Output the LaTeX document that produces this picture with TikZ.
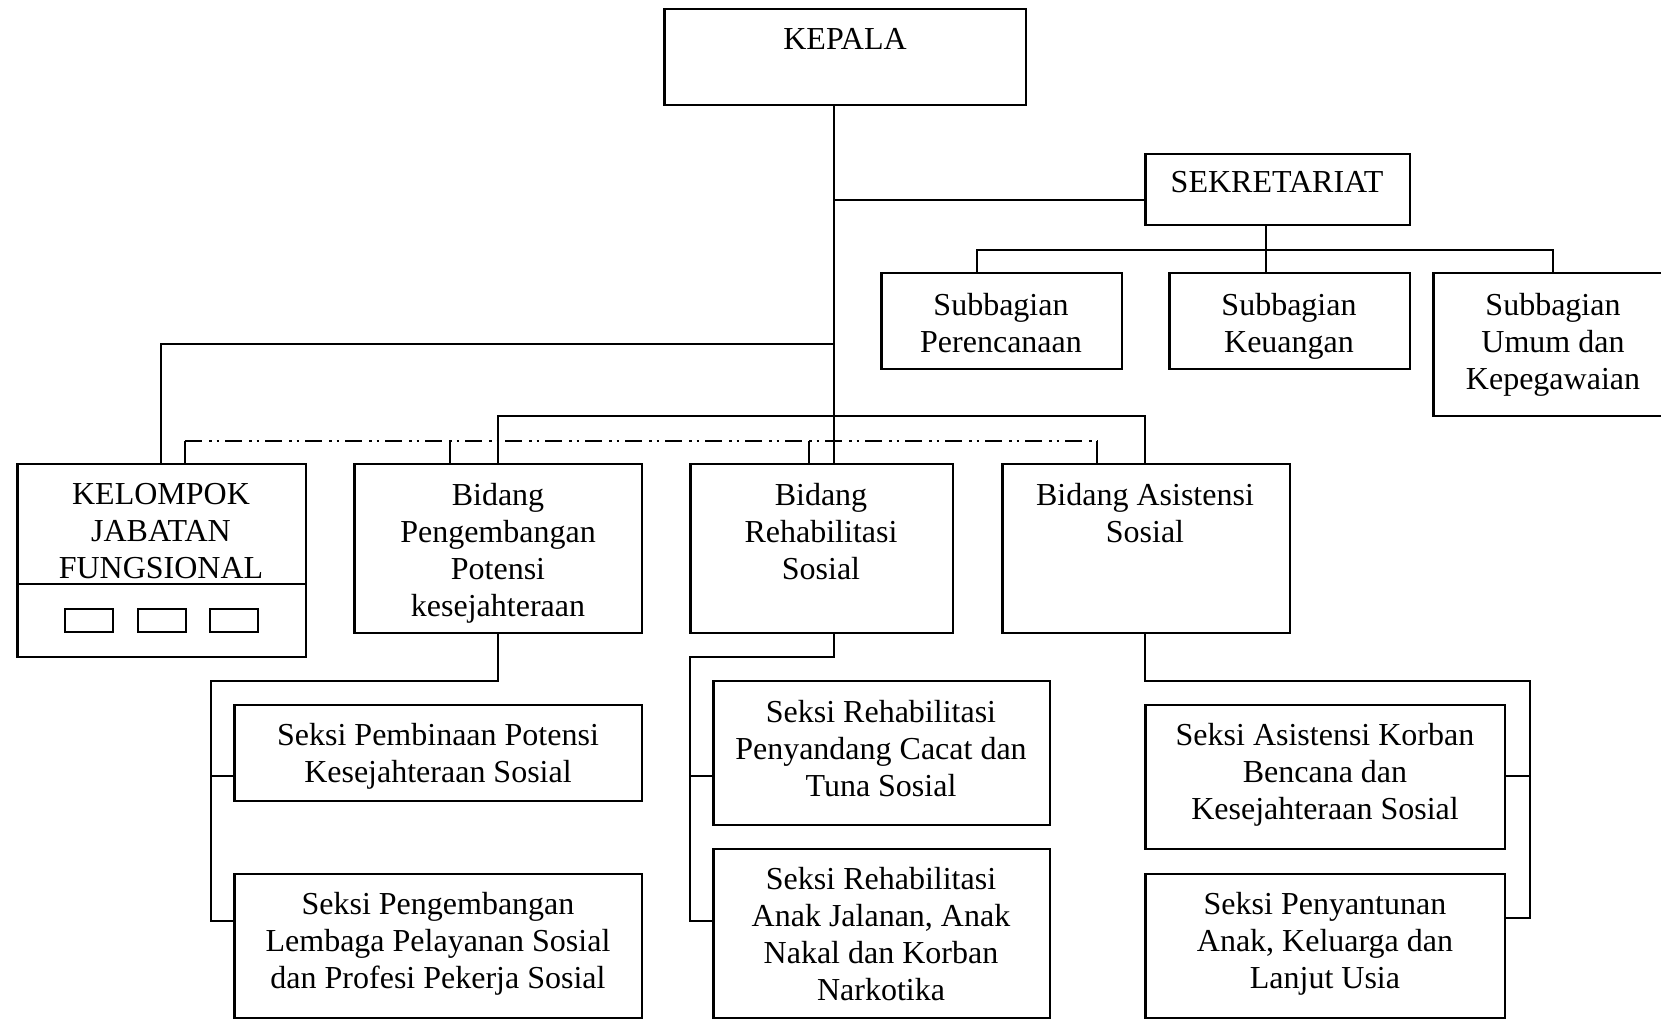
\documentclass[tikz,border=0pt]{standalone}
\usepackage{fontspec}
\setmainfont{Liberation Serif}
\tikzset{
  box/.style={draw=black, line width=1.8pt, inner sep=0pt, outer sep=0pt},
  sbox/.style={draw=black, line width=1.6pt, inner sep=0pt, outer sep=0pt, anchor=north west, minimum width=48pt, minimum height=23pt},
  conn/.style={line width=1.5pt},
  txt/.style={font=\fontsize{32}{37}\selectfont, align=center, inner sep=0pt, outer sep=0pt, anchor=north},
  dashdotdot/.style={line width=1.8pt, dash pattern=on 17pt off 7pt on 2.5pt off 5pt on 2.5pt off 6pt}
}
\newcommand\bx[5]{%
  \node[box,anchor=north west,minimum width={(#4-#2)*1pt},minimum height={(#5-#3)*1pt}] (#1) at (#2,#3) {};
  \draw[line width=3pt] ([xshift=0.7pt]#1.north west) -- ([xshift=0.7pt]#1.south west);}
\newcommand\tx[4]{\node[txt] (#1) at (#2,#3-22) {#4};}
\begin{document}
\begin{tikzpicture}[x=1pt,y=-1pt]
\useasboundingbox (0,0) rectangle (1661,1021);
\fill[white] (0,0) rectangle (1661,1021);

% boxes
\bx{kepala}{664}{9}{1026}{105}
\bx{sek}{1145}{154}{1410}{225}
\bx{sperc}{881}{273}{1122}{369}
\bx{skeu}{1169}{273}{1410}{369}
\bx{sumum}{1433}{273}{1663}{416}
\bx{kel}{17}{464}{306}{657}
\bx{bpeng}{354}{464}{642}{633}
\bx{brehab}{690}{464}{953}{633}
\bx{basis}{1002}{464}{1290}{633}
\bx{spemb}{234}{705}{642}{801}
\bx{spengl}{234}{874}{642}{1018}
\bx{srpc}{713}{681}{1050}{825}
\bx{sranak}{713}{849}{1050}{1018}
\bx{sakor}{1145}{705}{1505}{849}
\bx{spany}{1145}{874}{1505}{1018}

% kelompok details
\coordinate (kd) at (0,584);
\draw[line width=1.8pt] (kel.west |- kd) -- (kel.east |- kd);
\node[sbox] (k1) at (65,609) {};
\node[sbox] (k2) at (138,609) {};
\node[sbox] (k3) at (210,609) {};

% texts
\tx{kepala-t}{845}{50}{KEPALA}
\tx{sek-t}{1277}{193}{SEKRETARIAT}
\tx{sperc-t}{1001}{315}{Subbagian\\Perencanaan}
\tx{skeu-t}{1289}{315}{Subbagian\\Keuangan}
\tx{sumum-t}{1553}{315}{Subbagian\\Umum dan\\Kepegawaian}
\tx{kel-t}{161}{505}{KELOMPOK\\JABATAN\\FUNGSIONAL}
\tx{bpeng-t}{498}{505}{Bidang\\Pengembangan\\Potensi\\kesejahteraan}
\tx{brehab-t}{821}{505}{Bidang\\Rehabilitasi\\Sosial}
\tx{basis-t}{1145}{505}{Bidang Asistensi\\Sosial}
\tx{spemb-t}{438}{745}{Seksi Pembinaan Potensi\\Kesejahteraan Sosial}
\tx{spengl-t}{438}{914}{Seksi Pengembangan\\Lembaga Pelayanan Sosial\\dan Profesi Pekerja Sosial}
\tx{srpc-t}{881}{722}{Seksi Rehabilitasi\\Penyandang Cacat dan\\Tuna Sosial}
\tx{sranak-t}{881}{889}{Seksi Rehabilitasi\\Anak Jalanan, Anak\\Nakal dan Korban\\Narkotika}
\tx{sakor-t}{1325}{745}{Seksi Asistensi Korban\\Bencana dan\\Kesejahteraan Sosial}
\tx{spany-t}{1325}{914}{Seksi Penyantunan\\Anak, Keluarga dan\\Lanjut Usia}

% connectors
\coordinate (tx) at (834,0);
\draw[conn] (kepala.south -| tx) -- (brehab.north -| tx);
\coordinate (sy) at (0,200);
\draw[conn] (tx |- sy) -- (sek.west |- sy);
\coordinate (sj) at (1266,250);
\coordinate (sa) at (977,250);
\coordinate (sc) at (1553,250);
\draw[conn] (sek.south -| sj) -- (sj) -- (skeu.north -| sj);
\draw[conn] (sperc.north -| sa) -- (sa) -- (sc) -- (sumum.north -| sc);
\coordinate (ly) at (161,344);
\draw[conn] (tx |- ly) -- (ly) -- (kel.north -| ly);
\coordinate (by1) at (498,416);
\coordinate (by2) at (1145,416);
\draw[conn] (bpeng.north -| by1) -- (by1) -- (by2) -- (basis.north -| by2);
\coordinate (d1) at (185,441);
\coordinate (d2) at (450,441);
\coordinate (d3) at (809,441);
\coordinate (d4) at (1097,441);
\draw[dashdotdot] (d1) -- (d4);
\draw[conn] (d1) -- (kel.north -| d1);
\draw[conn] (d2) -- (bpeng.north -| d2);
\draw[conn] (d3) -- (brehab.north -| d3);
\draw[conn] (d4) -- (basis.north -| d4);
% bidang pengembangan
\coordinate (p1) at (498,681);
\coordinate (p2) at (211,681);
\coordinate (p3) at (211,921);
\coordinate (p4) at (211,776);
\draw[conn] (bpeng.south -| p1) -- (p1) -- (p2) -- (p3) -- (spengl.west |- p3);
\draw[conn] (p4) -- (spemb.west |- p4);
% bidang rehabilitasi
\coordinate (r1) at (834,657);
\coordinate (r2) at (690,657);
\coordinate (r3) at (690,921);
\coordinate (r4) at (690,776);
\draw[conn] (brehab.south -| r1) -- (r1) -- (r2) -- (r3) -- (sranak.west |- r3);
\draw[conn] (r4) -- (srpc.west |- r4);
% bidang asistensi
\coordinate (a1) at (1145,681);
\coordinate (a2) at (1530,681);
\coordinate (a3) at (1530,918);
\coordinate (a4) at (1530,776);
\draw[conn] (basis.south -| a1) -- (a1) -- (a2) -- (a3) -- (spany.east |- a3);
\draw[conn] (a4) -- (sakor.east |- a4);
\end{tikzpicture}
\end{document}
